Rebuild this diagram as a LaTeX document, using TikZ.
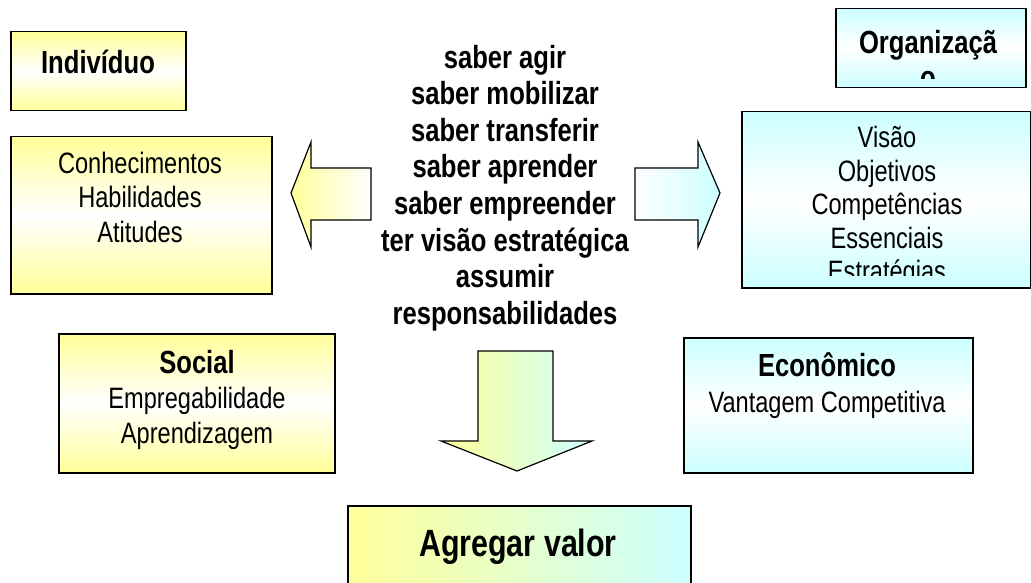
\documentclass[tikz,border=0pt]{standalone}
\usepackage{fontspec}
\setmainfont[FakeStretch=0.8]{Liberation Sans}
\usetikzlibrary{positioning}
\definecolor{amar}{HTML}{FFFF99}
\definecolor{ciano}{HTML}{CCFFFF}
\tikzset{
  caixa/.style={draw, line width=1.5pt, inner sep=0pt, anchor=north west},
  camar/.style={caixa, top color=amar, bottom color=amar, middle color=white},
  cciano/.style={caixa, top color=ciano, bottom color=ciano, middle color=white},
  seta/.style={draw, line width=1.2pt, line join=miter},
  txt/.style={align=center, inner sep=0pt, font=\fontsize{29.5}{34.5}\selectfont},
  tit/.style={align=center, inner sep=0pt, font=\bfseries\fontsize{32}{36.6}\selectfont}
}

\begin{document}
\begin{tikzpicture}[x=1pt,y=-1pt]
  \useasboundingbox (0,0) rectangle (1031,583);

  % caixas
  \node[camar, minimum width=175, minimum height=79] (indiv) at (10,31) {};
  \node[camar, minimum width=261, minimum height=157] (conhec) at (10,136) {};
  \node[cciano, minimum width=190, minimum height=79] (organiz) at (835,8) {};
  \node[cciano, minimum width=289, minimum height=176] (visao) at (741,111) {};
  \node[camar, minimum width=276, minimum height=139] (social) at (58,333) {};
  \node[cciano, minimum width=289, minimum height=135] (econ) at (683,337) {};
  \node[caixa, left color=amar, right color=ciano,
        minimum width=343, minimum height=100] (agregar) at (347,505) {};

  % setas
  \draw[seta, left color=amar, right color=white]
    (371,168)--(311,168)--(311,142)--(291,193)--(311,247)--(311,220)--(371,220)--cycle;
  \draw[seta, left color=white, right color=ciano]
    (635,168)--(698,168)--(698,142)--(720,193)--(698,247)--(698,220)--(635,220)--cycle;
  \draw[seta, left color=amar, right color=ciano]
    (478,351)--(553,351)--(553,441)--(592,441)--(517,471)--(441,441)--(478,441)--cycle;

  % textos
  \node[tit] (indivtxt) at (98,62) {Indivíduo};
  \node[txt] (conhectxt) at (140,197) {Conhecimentos\\Habilidades\\Atitudes};
  \begin{scope}
    \clip (835,8) rectangle (1025,79);
    \node[tit, font=\bfseries\fontsize{32}{35}\selectfont] (organiztxt) at (928,60) {Organizaçã\\o};
  \end{scope}
  \begin{scope}
    \clip (741,111) rectangle (1030,275);
    \node[txt, font=\fontsize{29.5}{33.5}\selectfont] (visaotxt) at (887,207)
      {Visão\\Objetivos\\Competências\\Essenciais\\Estratégias};
  \end{scope}
  \node[tit] (saber) at (505,188) {saber agir\\saber mobilizar\\saber transferir\\saber aprender\\
    saber empreender\\ter visão estratégica\\assumir\\responsabilidades};
  \node[txt, font=\fontsize{29.5}{35}\selectfont] (socialtxt) at (197,400)
    {{\bfseries\fontsize{32}{35}\selectfont Social}\\Empregabilidade\\Aprendizagem};
  \node[txt, font=\fontsize{29.5}{36}\selectfont] (econtxt) at (827,386)
    {{\bfseries\fontsize{32}{36}\selectfont Econômico}\\Vantagem Competitiva};
  \node[tit, font=\bfseries\fontsize{38}{44}\selectfont] (agregartxt) at (518,547) {Agregar valor};
\end{tikzpicture}
\end{document}
